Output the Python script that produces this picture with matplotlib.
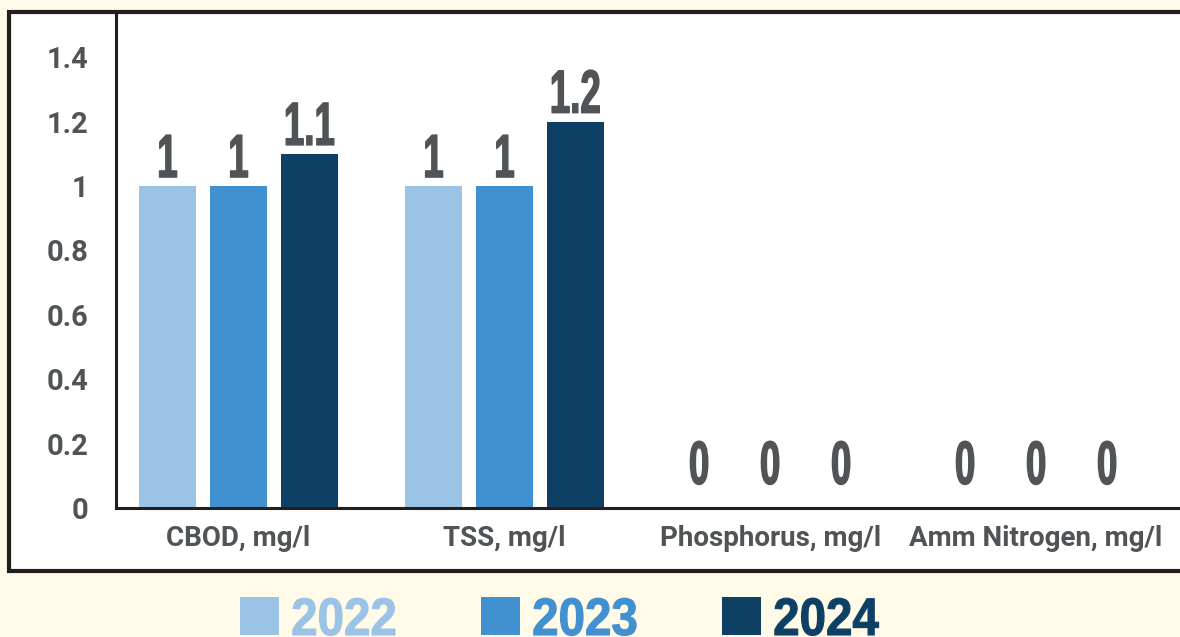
import matplotlib
matplotlib.use("Agg")
import matplotlib.pyplot as plt
from matplotlib.patches import Rectangle
from matplotlib.patheffects import AbstractPathEffect
from matplotlib.transforms import Affine2D
import numpy as np

categories = ["CBOD, mg/l", "TSS, mg/l", "Phosphorus, mg/l", "Amm Nitrogen, mg/l"]
years = ["2022", "2023", "2024"]
values_2022 = [1, 1, 0, 0]
values_2023 = [1, 1, 0, 0]
values_2024 = [1.1, 1.2, 0, 0]
yticks = [0, 0.2, 0.4, 0.6, 0.8, 1, 1.2, 1.4]
ytick_labels = ["0", "0.2", "0.4", "0.6", "0.8", "1", "1.2", "1.4"]

colors = ["#9ac3e6", "#4190cf", "#0e4066"]
bg = "#fffbe8"
gray = "#505456"
W, H = 1180, 637


class Condense(AbstractPathEffect):
    """Horizontally compress a text path around its centre or left edge."""
    def __init__(self, sx, anchor="center", lw=0.0):
        super().__init__()
        self.sx = sx
        self.anchor = anchor
        self.lw = lw

    def draw_path(self, renderer, gc, tpath, affine, rgbFace=None):
        ext = tpath.get_extents(affine)
        cx = ext.x0 if self.anchor == "left" else 0.5 * (ext.x0 + ext.x1)
        t = affine + Affine2D().translate(-cx, 0).scale(self.sx, 1).translate(cx, 0)
        gc0 = renderer.new_gc()
        gc0.copy_properties(gc)
        if self.lw > 0 and rgbFace is not None:
            gc0.set_linewidth(self.lw)
            gc0.set_foreground(rgbFace)
        renderer.draw_path(gc0, tpath, t, rgbFace)
        gc0.restore()


fig = plt.figure(figsize=(W / 100, H / 100), dpi=100, facecolor=bg)

# outer white box
box = Rectangle((9 / W, 1 - 571 / H), 1.2, (571 - 12) / H, transform=fig.transFigure,
                facecolor="white", edgecolor="#231f20", linewidth=3.0, zorder=-5)
fig.patches.append(box)

ax = fig.add_axes([116 / W, 1 - 508 / H, 1 - 116 / W, (508 - 14) / H])
ax.set_facecolor("none")
x = np.arange(len(categories))
bw = 57 / 266
off = 71 / 266
series = [values_2022, values_2023, values_2024]
for i, (vals, c) in enumerate(zip(series, colors)):
    xs = x + (i - 1) * off
    ax.bar(xs, vals, width=bw, color=c, zorder=2)
    for xx, v in zip(xs, vals):
        label = f"{v:g}"
        dy = -3 if v > 0 else 8
        ax.annotate(label, (xx, v), xytext=(0, dy), textcoords="offset points",
                    ha="center", va="bottom", fontsize=44, fontweight="bold",
                    color=gray, family=["Liberation Sans", "DejaVu Sans"],
                    path_effects=[Condense(0.6, lw=1.0)])

ax.set_xlim(-0.459, 3.541)
ax.set_ylim(0, 1.534)
ax.set_yticks(yticks)
ax.set_yticklabels(ytick_labels)
ax.set_xticks(x)
ax.set_xticklabels(categories)
ax.tick_params(axis="both", length=0, labelcolor=gray)
ax.tick_params(axis="y", pad=20, labelsize=21)
ax.tick_params(axis="x", pad=12, labelsize=20)
for lab in ax.get_xticklabels() + ax.get_yticklabels():
    lab.set_fontweight("bold")
    lab.set_family(["Roboto", "DejaVu Sans"])
for s in ["top", "right"]:
    ax.spines[s].set_visible(False)
for s in ["left", "bottom"]:
    ax.spines[s].set_color("#231f20")
    ax.spines[s].set_linewidth(2.2)

# legend
leg_x = [240, 481, 722]
for lx, yr, c in zip(leg_x, years, colors):
    fig.patches.append(Rectangle((lx / W, 1 - 635 / H), 39 / W, 38 / H,
                                 transform=fig.transFigure, facecolor=c, edgecolor="none"))
    fig.text((lx + 51) / W, 1 - 635 / H, yr, color=c, fontsize=38, fontweight="bold",
             family=["Liberation Sans", "DejaVu Sans"], va="baseline", ha="left",
             path_effects=[Condense(0.9, "left", lw=0.8)])

fig.savefig("out.png", dpi=100, facecolor=bg)
